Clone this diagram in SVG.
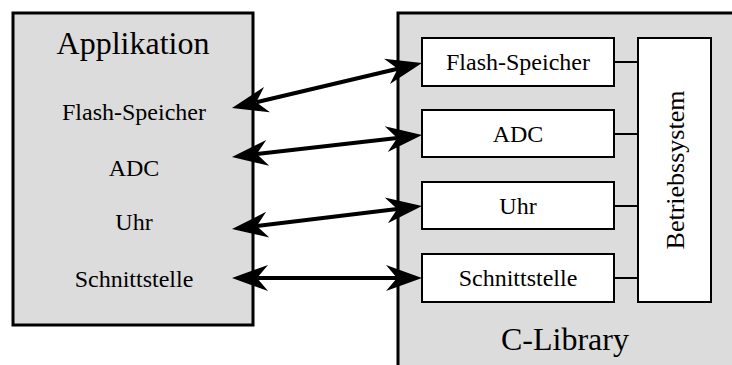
<svg xmlns="http://www.w3.org/2000/svg" width="732" height="365" viewBox="0 0 732 365">
<style>
.outer{fill:#dcdcdc;stroke:#000;stroke-width:3}
.inner{fill:#fff;stroke:#000;stroke-width:2}
.t{font-family:"Liberation Serif","Times New Roman",serif;fill:#000;text-anchor:middle}
.s{font-size:24px}
.b{font-size:32px}
.arr{stroke:#000;stroke-width:4;fill:none;marker-start:url(#ah);marker-end:url(#ah)}
.ln{stroke:#000;stroke-width:2}
</style>
<defs>
<marker id="ah" markerUnits="userSpaceOnUse" markerWidth="40" markerHeight="30" refX="11" refY="13" orient="auto-start-reverse" overflow="visible">
<path d="M0,0 L36,13 L0,26 L11,13 z" fill="#000"/>
</marker>
</defs>
<rect width="732" height="365" fill="#fff"/>
<g id="applikation">
<rect class="outer" x="13" y="13" width="240" height="312"/>
<text class="t b" x="133" y="54">Applikation</text>
<text class="t s" x="134" y="120">Flash-Speicher</text>
<text class="t s" x="134" y="176">ADC</text>
<text class="t s" x="134" y="230">Uhr</text>
<text class="t s" x="134" y="287">Schnittstelle</text>
</g>
<g id="clibrary">
<rect class="outer" x="398" y="13" width="340" height="360"/>
<text class="t b" x="565" y="350">C-Library</text>
</g>
<g id="flash">
<rect class="inner" x="422" y="38" width="192" height="48"/>
<text class="t s" x="518" y="70">Flash-Speicher</text>
</g>
<g id="adc">
<rect class="inner" x="422" y="110" width="192" height="47"/>
<text class="t s" x="518" y="142">ADC</text>
</g>
<g id="uhr">
<rect class="inner" x="422" y="182" width="192" height="47"/>
<text class="t s" x="518" y="214">Uhr</text>
</g>
<g id="schnittstelle">
<rect class="inner" x="422" y="254" width="192" height="48"/>
<text class="t s" x="518" y="286">Schnittstelle</text>
</g>
<g id="betriebssystem">
<rect class="inner" x="638" y="38" width="73" height="264"/>
<text class="t" font-size="26" transform="translate(684,170) rotate(-90)" x="0" y="0">Betriebssystem</text>
</g>
<g id="connectors">
<line class="arr" x1="256.3" y1="102.2" x2="397.7" y2="68.8"/>
<line class="arr" x1="256.8" y1="154.1" x2="397.2" y2="137.9"/>
<line class="arr" x1="256.8" y1="226" x2="397.2" y2="209"/>
<line class="arr" x1="257" y1="278" x2="397" y2="278"/>
<line class="ln" x1="614" y1="62" x2="638" y2="62"/>
<line class="ln" x1="614" y1="134" x2="638" y2="134"/>
<line class="ln" x1="614" y1="206" x2="638" y2="206"/>
<line class="ln" x1="614" y1="278" x2="638" y2="278"/>
</g>
</svg>
